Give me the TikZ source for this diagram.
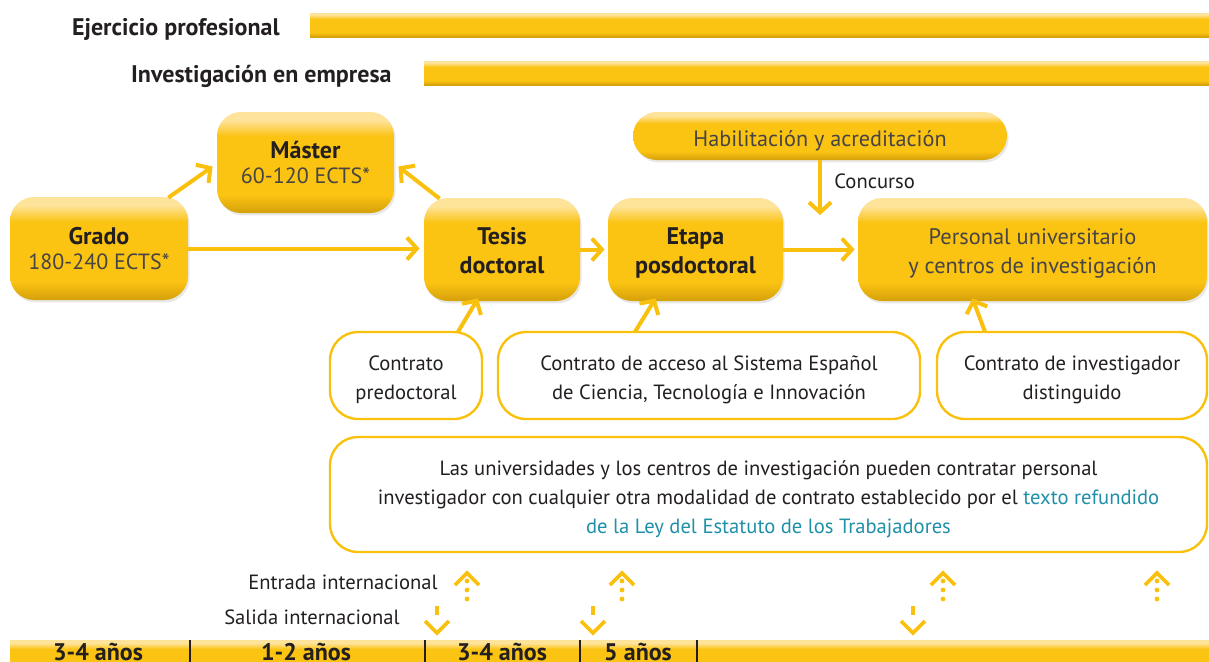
\documentclass[tikz,border=0pt]{standalone}
\usepackage{fontspec}
\setmainfont{PT Sans}
\usetikzlibrary{arrows.meta,calc,shadows}
\definecolor{ymid}{HTML}{FBC312}
\definecolor{ytop}{HTML}{FEE39A}
\definecolor{ybot}{HTML}{D4A00A}
\definecolor{yline}{HTML}{F9C10E}
\definecolor{txt}{HTML}{231F20}
\definecolor{lighttxt}{HTML}{474444}
\definecolor{linkc}{HTML}{1F90A8}
\pgfdeclareverticalshading{yshade}{100bp}{color(0bp)=(ybot); color(25bp)=(ybot); color(34bp)=(ymid); color(63bp)=(ymid); color(71bp)=(ytop); color(75bp)=(ytop); color(100bp)=(ytop)}
\newcommand\lightt[1]{{\fontsize{11}{13}\selectfont\color{lighttxt}#1}}
\newcommand\dn[2]{\raisebox{-#1}[\height][\depth]{\begin{tabular}{@{}c@{}}#2\end{tabular}}}
\begin{document}
\begin{tikzpicture}[x=0.5pt,y=-0.5pt,
  ybox/.style={rounded corners=12pt, shade, shading=yshade, drop shadow={opacity=0.18,shadow xshift=0.8pt,shadow yshift=-1.2pt}, align=center, inner sep=0pt, text=txt},
  obox/.style={draw=yline, line width=1.2pt, rounded corners=14pt, align=center, inner sep=0pt, text=txt, font=\fontsize{10.3}{14.5}\selectfont},
  ttl/.style={font=\fontsize{12}{14.5}\selectfont\bfseries},
  arr/.style={draw=yline, line width=2pt, -{Straight Barb[length=5pt,width=11pt]}},
  lbl/.style={text=txt, inner sep=0pt, font=\fontsize{10.3}{12}\selectfont},
  hdr/.style={text=txt, inner sep=0pt, font=\fontsize{12}{14}\selectfont\bfseries},
  bar/.style={shade, shading=yshade},
  chev/.style={draw=yline, line width=1.8pt},
]
\useasboundingbox (0,0) rectangle (1209,661);
\clip (0,0) rectangle (1209,661);

% top bars
\node[hdr, anchor=east] (ejer) at (280,29) {Ejercicio profesional};
\path[bar] (310,13) rectangle (1215,37);
\node[hdr, anchor=east] (inv) at (392,76) {Investigación en empresa};
\path[bar] (424,61) rectangle (1215,85);

% yellow boxes
\node[ybox, minimum width=89pt, minimum height=51.5pt] (grado) at (99,248.5)
  {\fontsize{12}{13}\selectfont\bfseries Grado\\[0.6pt]\lightt{180-240 ECTS*}};
\node[ybox, minimum width=88.5pt, minimum height=50.5pt] (master) at (305.5,162.5)
  {\fontsize{12}{13}\selectfont\bfseries Máster\\[0.6pt]\lightt{60-120 ECTS*}};
\node[ybox, ttl, minimum width=78pt, minimum height=51.5pt] (tesis) at (502,249.5)
  {\dn{2pt}{Tesis\\doctoral}};
\node[ybox, ttl, minimum width=87.5pt, minimum height=51.5pt] (etapa) at (695.5,249.5)
  {\dn{2pt}{Etapa\\posdoctoral}};
\node[ybox, minimum width=174.5pt, minimum height=51.5pt, font=\fontsize{11.2}{14.5}\selectfont, text=lighttxt] (pers) at (1032.5,249.5)
  {\dn{1.8pt}{Personal universitario\\y centros de investigación}};
\node[ybox, minimum width=187pt, minimum height=24pt, font=\fontsize{11.1}{12}\selectfont, text=lighttxt] (habil) at (820,136)
  {\raisebox{-2.4pt}[\height][\depth]{Habilitación y acreditación}};

% outline boxes
\node[obox, minimum width=76pt, minimum height=43.5pt] (predoc) at (406,375.5)
  {\dn{2pt}{Contrato\\predoctoral}};
\node[obox, minimum width=211pt, minimum height=43.5pt] (acceso) at (709,375.5)
  {\dn{2pt}{Contrato de acceso al Sistema Español\\de Ciencia, Tecnología e Innovación}};
\node[obox, minimum width=135pt, minimum height=43.5pt] (disting) at (1072,375.5)
  {\dn{2pt}{Contrato de investigador\\distinguido}};
\node[obox, minimum width=438.5pt, minimum height=57.5pt] (univ) at (768.5,494.5)
  {\dn{2pt}{Las universidades y los centros de investigación pueden contratar personal\\
   investigador con cualquier otra modalidad de contrato establecido por el \textcolor{linkc}{texto refundido}\\
   \textcolor{linkc}{de la Ley del Estatuto de los Trabajadores}}};

% connectors
\draw[arr] (grado.east) -- ($(tesis.west)+(-4,-1)$);
\draw[arr] ($(grado.north east)+(-20,1)$) -- ($(master.west)+(-4,4)$);
\draw[arr] ($(tesis.north west)+(16,1)$) -- ($(master.east)+(4,4)$);
\draw[arr] (tesis.east) -- ($(etapa.west)+(-3,0)$);
\draw[arr] (etapa.east) -- ($(pers.west)+(-3,0)$);
\coordinate (conc) at (820,215);
\draw[arr] (habil.south) -- (conc);
\node[lbl, anchor=west] (conclbl) at (834,181) {Concurso};
\draw[arr] ($(predoc.north)+(52,1)$) -- ($(tesis.south)+(-24,-3)$);
\draw[arr] ($(acceso.north)+(-74,1)$) -- ($(etapa.south)+(-40,-3)$);
\draw[arr] ($(disting.north)+(-87,1)$) -- ($(pers.south)+(-60,-3)$);

% international labels
\node[lbl, anchor=east] (entrada) at (438,582) {Entrada internacional};
\node[lbl, anchor=east] (salida) at (400,617) {Salida internacional};
\foreach \x in {467,622,943,1157}{
  \draw[chev] (\x-12,585) -- (\x,573) -- (\x+12,585);
  \foreach \yy in {581,590,599} \fill[yline] (\x,\yy) circle (2.4);
}
\foreach \x in {437,593,913}{
  \draw[chev] (\x,606) -- (\x,615);
  \draw[chev] (\x-12,621) -- (\x,633) -- (\x+12,621);
}

% bottom bar
\path[bar] (10,640) rectangle (1215,678);
\foreach \x in {190,425,580,697} \draw[txt, line width=1pt] (\x,640) -- (\x,662);
\node[hdr, anchor=base] (y1) at (98,660) {3-4 años};
\node[hdr, anchor=base] (y2) at (306,660) {1-2 años};
\node[hdr, anchor=base] (y3) at (502,660) {3-4 años};
\node[hdr, anchor=base] (y4) at (638,660) {5 años};
\end{tikzpicture}
\end{document}
